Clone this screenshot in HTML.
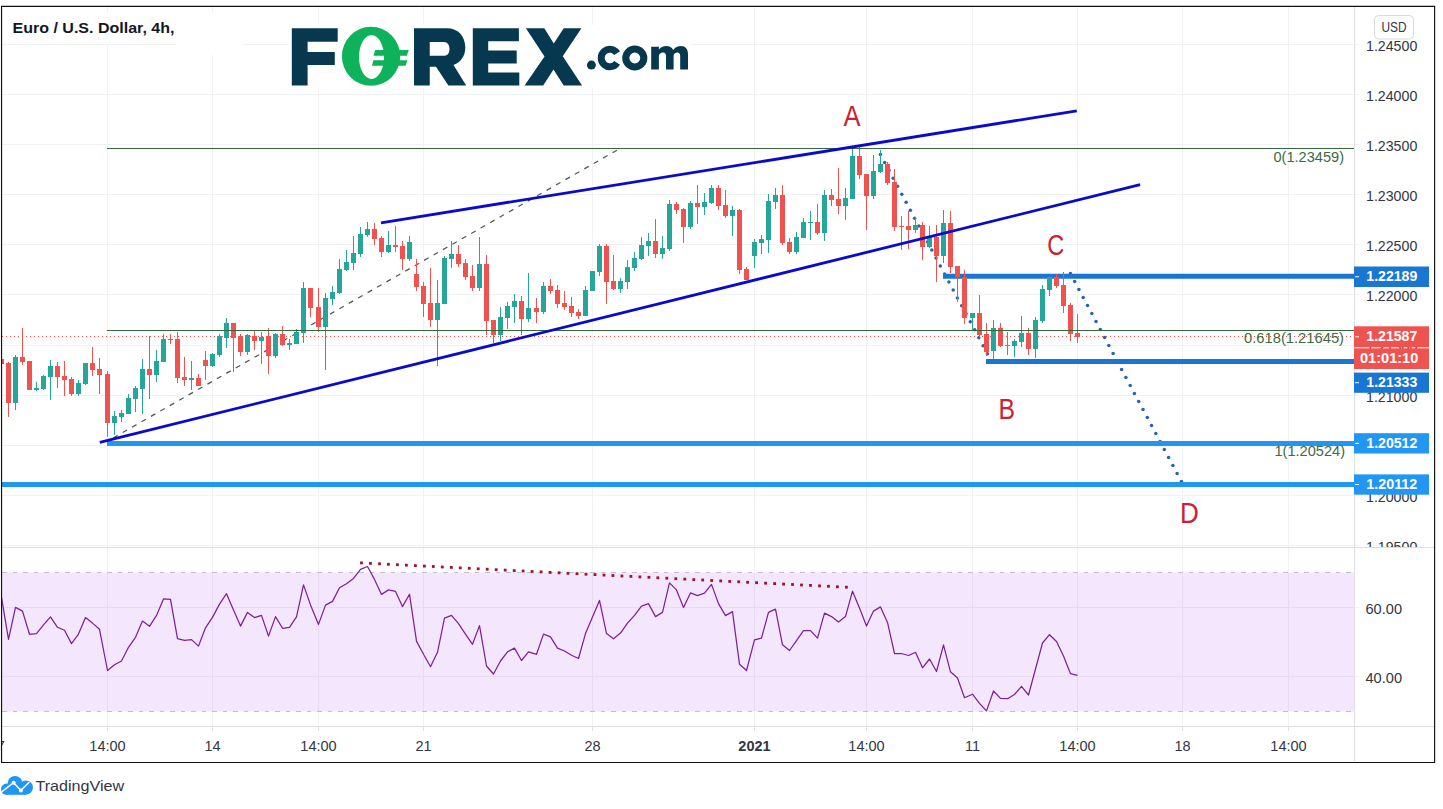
<!DOCTYPE html>
<html><head><meta charset="utf-8"><title>EUR/USD 4h</title>
<style>
html,body{margin:0;padding:0;background:#fff;}
body{width:1443px;height:809px;overflow:hidden;font-family:"Liberation Sans",sans-serif;}
svg{display:block;}
svg text{font-family:"Liberation Sans",sans-serif;}
</style></head><body>
<svg width="1443" height="809" viewBox="0 0 1443 809">
<rect x="0" y="0" width="1443" height="809" fill="#ffffff"/>
<defs><clipPath id="plot"><rect x="2" y="7" width="1352.5" height="540"/></clipPath><clipPath id="rsi"><rect x="2" y="548" width="1352.5" height="178"/></clipPath></defs>
<rect x="2" y="572.5" width="1352.5" height="139" fill="#f4e6fc"/>
<g stroke="#f1f2f3" stroke-width="1" shape-rendering="crispEdges">
<line x1="2" y1="44.5" x2="1359" y2="44.5"/>
<line x1="2" y1="94.5" x2="1359" y2="94.5"/>
<line x1="2" y1="144.5" x2="1359" y2="144.5"/>
<line x1="2" y1="194.5" x2="1359" y2="194.5"/>
<line x1="2" y1="244.5" x2="1359" y2="244.5"/>
<line x1="2" y1="294.5" x2="1359" y2="294.5"/>
<line x1="2" y1="345.5" x2="1359" y2="345.5"/>
<line x1="2" y1="395.5" x2="1359" y2="395.5"/>
<line x1="2" y1="445.5" x2="1359" y2="445.5"/>
<line x1="2" y1="495.5" x2="1359" y2="495.5"/>
<line x1="2" y1="545.5" x2="1359" y2="545.5"/>
<line x1="107.5" y1="7" x2="107.5" y2="547"/>
<line x1="212.5" y1="7" x2="212.5" y2="547"/>
<line x1="318.5" y1="7" x2="318.5" y2="547"/>
<line x1="423.5" y1="7" x2="423.5" y2="547"/>
<line x1="592.5" y1="7" x2="592.5" y2="547"/>
<line x1="754.5" y1="7" x2="754.5" y2="547"/>
<line x1="866.5" y1="7" x2="866.5" y2="547"/>
<line x1="972.5" y1="7" x2="972.5" y2="547"/>
<line x1="1077.5" y1="7" x2="1077.5" y2="547"/>
<line x1="1182.5" y1="7" x2="1182.5" y2="547"/>
<line x1="1288.5" y1="7" x2="1288.5" y2="547"/>
</g>
<g stroke="#e8dbf1" stroke-width="1" shape-rendering="crispEdges">
<line x1="107.5" y1="573" x2="107.5" y2="711"/>
<line x1="212.5" y1="573" x2="212.5" y2="711"/>
<line x1="318.5" y1="573" x2="318.5" y2="711"/>
<line x1="423.5" y1="573" x2="423.5" y2="711"/>
<line x1="592.5" y1="573" x2="592.5" y2="711"/>
<line x1="754.5" y1="573" x2="754.5" y2="711"/>
<line x1="866.5" y1="573" x2="866.5" y2="711"/>
<line x1="972.5" y1="573" x2="972.5" y2="711"/>
<line x1="1077.5" y1="573" x2="1077.5" y2="711"/>
<line x1="1182.5" y1="573" x2="1182.5" y2="711"/>
<line x1="1288.5" y1="573" x2="1288.5" y2="711"/>
<line x1="2" y1="607.5" x2="1354" y2="607.5"/>
<line x1="2" y1="676.5" x2="1354" y2="676.5"/>
</g>
<g stroke="#f1f2f3" stroke-width="1" shape-rendering="crispEdges">
<line x1="107.5" y1="548" x2="107.5" y2="572"/>
<line x1="107.5" y1="712" x2="107.5" y2="726"/>
<line x1="212.5" y1="548" x2="212.5" y2="572"/>
<line x1="212.5" y1="712" x2="212.5" y2="726"/>
<line x1="318.5" y1="548" x2="318.5" y2="572"/>
<line x1="318.5" y1="712" x2="318.5" y2="726"/>
<line x1="423.5" y1="548" x2="423.5" y2="572"/>
<line x1="423.5" y1="712" x2="423.5" y2="726"/>
<line x1="592.5" y1="548" x2="592.5" y2="572"/>
<line x1="592.5" y1="712" x2="592.5" y2="726"/>
<line x1="754.5" y1="548" x2="754.5" y2="572"/>
<line x1="754.5" y1="712" x2="754.5" y2="726"/>
<line x1="866.5" y1="548" x2="866.5" y2="572"/>
<line x1="866.5" y1="712" x2="866.5" y2="726"/>
<line x1="972.5" y1="548" x2="972.5" y2="572"/>
<line x1="972.5" y1="712" x2="972.5" y2="726"/>
<line x1="1077.5" y1="548" x2="1077.5" y2="572"/>
<line x1="1077.5" y1="712" x2="1077.5" y2="726"/>
<line x1="1182.5" y1="548" x2="1182.5" y2="572"/>
<line x1="1182.5" y1="712" x2="1182.5" y2="726"/>
<line x1="1288.5" y1="548" x2="1288.5" y2="572"/>
<line x1="1288.5" y1="712" x2="1288.5" y2="726"/>
<line x1="1354" y1="607.5" x2="1359" y2="607.5"/>
<line x1="1354" y1="676.5" x2="1359" y2="676.5"/>
</g>
<g stroke="#c0c0c5" stroke-width="1" stroke-dasharray="4.5,6" shape-rendering="crispEdges"><line x1="2" y1="572.5" x2="1354" y2="572.5"/><line x1="2" y1="711.5" x2="1354" y2="711.5"/></g>
<g stroke="#dedfe2" stroke-width="1" shape-rendering="crispEdges">
<line x1="2" y1="547.5" x2="1435" y2="547.5"/>
<line x1="2" y1="726.5" x2="1435" y2="726.5"/>
<line x1="1354.5" y1="7" x2="1354.5" y2="761"/>
<line x1="107.5" y1="727" x2="107.5" y2="731"/>
<line x1="212.5" y1="727" x2="212.5" y2="731"/>
<line x1="318.5" y1="727" x2="318.5" y2="731"/>
<line x1="423.5" y1="727" x2="423.5" y2="731"/>
<line x1="592.5" y1="727" x2="592.5" y2="731"/>
<line x1="754.5" y1="727" x2="754.5" y2="731"/>
<line x1="866.5" y1="727" x2="866.5" y2="731"/>
<line x1="972.5" y1="727" x2="972.5" y2="731"/>
<line x1="1077.5" y1="727" x2="1077.5" y2="731"/>
<line x1="1182.5" y1="727" x2="1182.5" y2="731"/>
<line x1="1288.5" y1="727" x2="1288.5" y2="731"/>
</g>
<g clip-path="url(#plot)">
<line x1="2" y1="336.5" x2="1354" y2="336.5" stroke="#ef5350" stroke-width="1" stroke-dasharray="1,3" shape-rendering="crispEdges"/>
<line x1="617" y1="150.2" x2="107" y2="441.5" stroke="#4d5b4d" stroke-width="1.25" stroke-dasharray="5.1,5.75"/>
<g fill="#2763ab"><circle cx="880.4" cy="154.4" r="1.75"/><circle cx="884.7" cy="162.4" r="1.75"/><circle cx="889.0" cy="170.3" r="1.75"/><circle cx="893.2" cy="178.3" r="1.75"/><circle cx="897.5" cy="186.3" r="1.75"/><circle cx="901.8" cy="194.2" r="1.75"/><circle cx="906.1" cy="202.2" r="1.75"/><circle cx="910.4" cy="210.2" r="1.75"/><circle cx="914.6" cy="218.2" r="1.75"/><circle cx="918.9" cy="226.1" r="1.75"/><circle cx="923.2" cy="234.1" r="1.75"/><circle cx="927.5" cy="242.1" r="1.75"/><circle cx="931.8" cy="250.0" r="1.75"/><circle cx="936.0" cy="258.0" r="1.75"/><circle cx="940.3" cy="266.0" r="1.75"/><circle cx="944.6" cy="274.0" r="1.75"/><circle cx="948.9" cy="281.9" r="1.75"/><circle cx="953.2" cy="289.9" r="1.75"/><circle cx="957.4" cy="297.9" r="1.75"/><circle cx="961.7" cy="305.8" r="1.75"/><circle cx="966.0" cy="313.8" r="1.75"/><circle cx="970.3" cy="321.8" r="1.75"/><circle cx="974.6" cy="329.7" r="1.75"/><circle cx="978.8" cy="337.7" r="1.75"/><circle cx="983.1" cy="345.7" r="1.75"/><circle cx="987.4" cy="353.7" r="1.75"/></g>
<g fill="#2763ab"><circle cx="1070.4" cy="273.6" r="1.75"/><circle cx="1074.7" cy="281.6" r="1.75"/><circle cx="1078.9" cy="289.6" r="1.75"/><circle cx="1083.2" cy="297.6" r="1.75"/><circle cx="1087.5" cy="305.6" r="1.75"/><circle cx="1091.8" cy="313.6" r="1.75"/><circle cx="1096.0" cy="321.6" r="1.75"/><circle cx="1100.3" cy="329.6" r="1.75"/><circle cx="1104.6" cy="337.6" r="1.75"/><circle cx="1108.8" cy="345.6" r="1.75"/><circle cx="1113.1" cy="353.6" r="1.75"/><circle cx="1117.4" cy="361.6" r="1.75"/><circle cx="1121.6" cy="369.6" r="1.75"/><circle cx="1125.9" cy="377.6" r="1.75"/><circle cx="1130.2" cy="385.6" r="1.75"/><circle cx="1134.4" cy="393.6" r="1.75"/><circle cx="1138.7" cy="401.6" r="1.75"/><circle cx="1143.0" cy="409.6" r="1.75"/><circle cx="1147.3" cy="417.6" r="1.75"/><circle cx="1151.5" cy="425.6" r="1.75"/><circle cx="1155.8" cy="433.6" r="1.75"/><circle cx="1160.1" cy="441.6" r="1.75"/><circle cx="1164.3" cy="449.6" r="1.75"/><circle cx="1168.6" cy="457.6" r="1.75"/><circle cx="1172.9" cy="465.6" r="1.75"/><circle cx="1177.1" cy="473.6" r="1.75"/><circle cx="1181.4" cy="481.6" r="1.75"/></g>
<line x1="107" y1="443.5" x2="1354" y2="443.5" stroke="#2196f3" stroke-width="5"/>
<line x1="2" y1="484.5" x2="1354" y2="484.5" stroke="#2196f3" stroke-width="5"/>
<line x1="943" y1="276.3" x2="1354" y2="276.3" stroke="#1976d2" stroke-width="5"/>
<line x1="986" y1="361.5" x2="1354" y2="361.5" stroke="#1976d2" stroke-width="5"/>
<rect x="1" y="359" width="1" height="5" fill="#ef5350"/><rect x="-1" y="359" width="5" height="5" fill="#ef5350"/>
<rect x="8" y="362" width="1" height="55" fill="#ef5350"/><rect x="6" y="363" width="5" height="40" fill="#ef5350"/>
<rect x="15" y="355" width="1" height="55" fill="#26a69a"/><rect x="13" y="357" width="5" height="46" fill="#26a69a"/>
<rect x="22" y="328" width="1" height="37" fill="#ef5350"/><rect x="20" y="357" width="5" height="5" fill="#ef5350"/>
<rect x="29" y="361" width="1" height="29" fill="#ef5350"/><rect x="27" y="361" width="5" height="29" fill="#ef5350"/>
<rect x="36" y="382" width="1" height="9" fill="#26a69a"/><rect x="34" y="388" width="5" height="2" fill="#26a69a"/>
<rect x="43" y="375" width="1" height="15" fill="#26a69a"/><rect x="41" y="376" width="5" height="13" fill="#26a69a"/>
<rect x="50" y="360" width="1" height="40" fill="#26a69a"/><rect x="48" y="366" width="5" height="11" fill="#26a69a"/>
<rect x="57" y="362" width="1" height="26" fill="#ef5350"/><rect x="55" y="366" width="5" height="11" fill="#ef5350"/>
<rect x="64" y="361" width="1" height="35" fill="#ef5350"/><rect x="62" y="376" width="5" height="4" fill="#ef5350"/>
<rect x="71" y="377" width="1" height="19" fill="#ef5350"/><rect x="69" y="379" width="5" height="15" fill="#ef5350"/>
<rect x="78" y="380" width="1" height="16" fill="#26a69a"/><rect x="76" y="383" width="5" height="11" fill="#26a69a"/>
<rect x="85" y="363" width="1" height="22" fill="#26a69a"/><rect x="83" y="363" width="5" height="21" fill="#26a69a"/>
<rect x="92" y="347" width="1" height="29" fill="#ef5350"/><rect x="90" y="363" width="5" height="7" fill="#ef5350"/>
<rect x="99" y="358" width="1" height="36" fill="#ef5350"/><rect x="97" y="369" width="5" height="6" fill="#ef5350"/>
<rect x="107" y="371" width="1" height="66" fill="#ef5350"/><rect x="105" y="374" width="5" height="49" fill="#ef5350"/>
<rect x="114" y="411" width="1" height="24" fill="#26a69a"/><rect x="112" y="416" width="5" height="7" fill="#26a69a"/>
<rect x="121" y="410" width="1" height="12" fill="#26a69a"/><rect x="119" y="413" width="5" height="4" fill="#26a69a"/>
<rect x="128" y="394" width="1" height="20" fill="#26a69a"/><rect x="126" y="398" width="5" height="16" fill="#26a69a"/>
<rect x="135" y="386" width="1" height="26" fill="#26a69a"/><rect x="133" y="388" width="5" height="11" fill="#26a69a"/>
<rect x="142" y="359" width="1" height="55" fill="#26a69a"/><rect x="140" y="369" width="5" height="20" fill="#26a69a"/>
<rect x="149" y="336" width="1" height="63" fill="#ef5350"/><rect x="147" y="369" width="5" height="6" fill="#ef5350"/>
<rect x="156" y="350" width="1" height="32" fill="#26a69a"/><rect x="154" y="361" width="5" height="14" fill="#26a69a"/>
<rect x="163" y="334" width="1" height="28" fill="#26a69a"/><rect x="161" y="339" width="5" height="23" fill="#26a69a"/>
<rect x="170" y="334" width="1" height="10" fill="#ef5350"/><rect x="168" y="339" width="5" height="1" fill="#ef5350"/>
<rect x="177" y="332" width="1" height="51" fill="#ef5350"/><rect x="175" y="339" width="5" height="39" fill="#ef5350"/>
<rect x="184" y="357" width="1" height="29" fill="#ef5350"/><rect x="182" y="377" width="5" height="3" fill="#ef5350"/>
<rect x="191" y="361" width="1" height="29" fill="#26a69a"/><rect x="189" y="378" width="5" height="2" fill="#26a69a"/>
<rect x="198" y="374" width="1" height="12" fill="#ef5350"/><rect x="196" y="378" width="5" height="8" fill="#ef5350"/>
<rect x="205" y="351" width="1" height="29" fill="#ef5350"/><rect x="203" y="360" width="5" height="6" fill="#ef5350"/>
<rect x="212" y="353" width="1" height="14" fill="#26a69a"/><rect x="210" y="354" width="5" height="12" fill="#26a69a"/>
<rect x="219" y="334" width="1" height="23" fill="#26a69a"/><rect x="217" y="336" width="5" height="19" fill="#26a69a"/>
<rect x="226" y="318" width="1" height="30" fill="#26a69a"/><rect x="224" y="323" width="5" height="15" fill="#26a69a"/>
<rect x="233" y="323" width="1" height="49" fill="#ef5350"/><rect x="231" y="323" width="5" height="15" fill="#ef5350"/>
<rect x="240" y="334" width="1" height="22" fill="#ef5350"/><rect x="238" y="336" width="5" height="16" fill="#ef5350"/>
<rect x="247" y="334" width="1" height="21" fill="#26a69a"/><rect x="245" y="335" width="5" height="17" fill="#26a69a"/>
<rect x="254" y="331" width="1" height="19" fill="#ef5350"/><rect x="252" y="336" width="5" height="5" fill="#ef5350"/>
<rect x="261" y="332" width="1" height="32" fill="#26a69a"/><rect x="259" y="337" width="5" height="4" fill="#26a69a"/>
<rect x="268" y="328" width="1" height="46" fill="#ef5350"/><rect x="266" y="336" width="5" height="20" fill="#ef5350"/>
<rect x="275" y="333" width="1" height="25" fill="#26a69a"/><rect x="273" y="334" width="5" height="22" fill="#26a69a"/>
<rect x="282" y="326" width="1" height="20" fill="#ef5350"/><rect x="280" y="334" width="5" height="11" fill="#ef5350"/>
<rect x="289" y="339" width="1" height="11" fill="#26a69a"/><rect x="287" y="343" width="5" height="2" fill="#26a69a"/>
<rect x="296" y="329" width="1" height="15" fill="#26a69a"/><rect x="294" y="332" width="5" height="12" fill="#26a69a"/>
<rect x="303" y="282" width="1" height="61" fill="#26a69a"/><rect x="301" y="288" width="5" height="45" fill="#26a69a"/>
<rect x="310" y="288" width="1" height="29" fill="#ef5350"/><rect x="308" y="288" width="5" height="20" fill="#ef5350"/>
<rect x="318" y="288" width="1" height="44" fill="#ef5350"/><rect x="316" y="307" width="5" height="20" fill="#ef5350"/>
<rect x="325" y="293" width="1" height="77" fill="#26a69a"/><rect x="323" y="298" width="5" height="29" fill="#26a69a"/>
<rect x="332" y="286" width="1" height="19" fill="#26a69a"/><rect x="330" y="292" width="5" height="7" fill="#26a69a"/>
<rect x="339" y="259" width="1" height="35" fill="#26a69a"/><rect x="337" y="269" width="5" height="24" fill="#26a69a"/>
<rect x="346" y="250" width="1" height="21" fill="#26a69a"/><rect x="344" y="262" width="5" height="8" fill="#26a69a"/>
<rect x="353" y="236" width="1" height="34" fill="#26a69a"/><rect x="351" y="253" width="5" height="10" fill="#26a69a"/>
<rect x="360" y="227" width="1" height="30" fill="#26a69a"/><rect x="358" y="234" width="5" height="20" fill="#26a69a"/>
<rect x="367" y="222" width="1" height="15" fill="#26a69a"/><rect x="365" y="229" width="5" height="6" fill="#26a69a"/>
<rect x="374" y="223" width="1" height="22" fill="#ef5350"/><rect x="372" y="229" width="5" height="10" fill="#ef5350"/>
<rect x="381" y="236" width="1" height="21" fill="#ef5350"/><rect x="379" y="238" width="5" height="14" fill="#ef5350"/>
<rect x="388" y="231" width="1" height="22" fill="#26a69a"/><rect x="386" y="245" width="5" height="7" fill="#26a69a"/>
<rect x="395" y="226" width="1" height="26" fill="#ef5350"/><rect x="393" y="245" width="5" height="2" fill="#ef5350"/>
<rect x="402" y="241" width="1" height="29" fill="#ef5350"/><rect x="400" y="246" width="5" height="13" fill="#ef5350"/>
<rect x="409" y="236" width="1" height="25" fill="#26a69a"/><rect x="407" y="242" width="5" height="17" fill="#26a69a"/>
<rect x="416" y="259" width="1" height="32" fill="#ef5350"/><rect x="414" y="274" width="5" height="13" fill="#ef5350"/>
<rect x="423" y="282" width="1" height="35" fill="#ef5350"/><rect x="421" y="286" width="5" height="18" fill="#ef5350"/>
<rect x="430" y="268" width="1" height="59" fill="#ef5350"/><rect x="428" y="303" width="5" height="17" fill="#ef5350"/>
<rect x="437" y="280" width="1" height="86" fill="#26a69a"/><rect x="435" y="303" width="5" height="17" fill="#26a69a"/>
<rect x="444" y="256" width="1" height="48" fill="#26a69a"/><rect x="442" y="258" width="5" height="46" fill="#26a69a"/>
<rect x="451" y="241" width="1" height="27" fill="#26a69a"/><rect x="449" y="254" width="5" height="5" fill="#26a69a"/>
<rect x="458" y="245" width="1" height="22" fill="#ef5350"/><rect x="456" y="254" width="5" height="10" fill="#ef5350"/>
<rect x="465" y="259" width="1" height="21" fill="#ef5350"/><rect x="463" y="263" width="5" height="14" fill="#ef5350"/>
<rect x="472" y="265" width="1" height="26" fill="#ef5350"/><rect x="470" y="276" width="5" height="12" fill="#ef5350"/>
<rect x="479" y="237" width="1" height="54" fill="#26a69a"/><rect x="477" y="264" width="5" height="24" fill="#26a69a"/>
<rect x="486" y="255" width="1" height="80" fill="#ef5350"/><rect x="484" y="264" width="5" height="57" fill="#ef5350"/>
<rect x="493" y="320" width="1" height="23" fill="#ef5350"/><rect x="491" y="320" width="5" height="15" fill="#ef5350"/>
<rect x="500" y="307" width="1" height="34" fill="#26a69a"/><rect x="498" y="317" width="5" height="18" fill="#26a69a"/>
<rect x="507" y="302" width="1" height="27" fill="#26a69a"/><rect x="505" y="306" width="5" height="12" fill="#26a69a"/>
<rect x="514" y="294" width="1" height="29" fill="#26a69a"/><rect x="512" y="301" width="5" height="6" fill="#26a69a"/>
<rect x="521" y="296" width="1" height="39" fill="#ef5350"/><rect x="519" y="301" width="5" height="18" fill="#ef5350"/>
<rect x="528" y="273" width="1" height="49" fill="#26a69a"/><rect x="526" y="308" width="5" height="11" fill="#26a69a"/>
<rect x="536" y="298" width="1" height="25" fill="#ef5350"/><rect x="534" y="308" width="5" height="4" fill="#ef5350"/>
<rect x="543" y="282" width="1" height="32" fill="#26a69a"/><rect x="541" y="286" width="5" height="26" fill="#26a69a"/>
<rect x="550" y="279" width="1" height="15" fill="#ef5350"/><rect x="548" y="286" width="5" height="5" fill="#ef5350"/>
<rect x="557" y="285" width="1" height="23" fill="#ef5350"/><rect x="555" y="290" width="5" height="14" fill="#ef5350"/>
<rect x="564" y="291" width="1" height="19" fill="#ef5350"/><rect x="562" y="303" width="5" height="4" fill="#ef5350"/>
<rect x="571" y="297" width="1" height="20" fill="#ef5350"/><rect x="569" y="306" width="5" height="7" fill="#ef5350"/>
<rect x="578" y="309" width="1" height="10" fill="#ef5350"/><rect x="576" y="312" width="5" height="4" fill="#ef5350"/>
<rect x="585" y="286" width="1" height="30" fill="#26a69a"/><rect x="583" y="290" width="5" height="26" fill="#26a69a"/>
<rect x="592" y="271" width="1" height="20" fill="#26a69a"/><rect x="590" y="271" width="5" height="20" fill="#26a69a"/>
<rect x="599" y="244" width="1" height="32" fill="#26a69a"/><rect x="597" y="246" width="5" height="26" fill="#26a69a"/>
<rect x="606" y="244" width="1" height="60" fill="#ef5350"/><rect x="604" y="246" width="5" height="36" fill="#ef5350"/>
<rect x="613" y="255" width="1" height="35" fill="#ef5350"/><rect x="611" y="281" width="5" height="8" fill="#ef5350"/>
<rect x="620" y="278" width="1" height="15" fill="#26a69a"/><rect x="618" y="281" width="5" height="8" fill="#26a69a"/>
<rect x="627" y="260" width="1" height="29" fill="#26a69a"/><rect x="625" y="267" width="5" height="15" fill="#26a69a"/>
<rect x="634" y="252" width="1" height="19" fill="#26a69a"/><rect x="632" y="258" width="5" height="10" fill="#26a69a"/>
<rect x="641" y="237" width="1" height="23" fill="#26a69a"/><rect x="639" y="245" width="5" height="14" fill="#26a69a"/>
<rect x="648" y="233" width="1" height="23" fill="#26a69a"/><rect x="646" y="241" width="5" height="5" fill="#26a69a"/>
<rect x="655" y="219" width="1" height="39" fill="#ef5350"/><rect x="653" y="241" width="5" height="13" fill="#ef5350"/>
<rect x="662" y="236" width="1" height="23" fill="#26a69a"/><rect x="660" y="248" width="5" height="6" fill="#26a69a"/>
<rect x="669" y="200" width="1" height="51" fill="#26a69a"/><rect x="667" y="204" width="5" height="45" fill="#26a69a"/>
<rect x="676" y="202" width="1" height="12" fill="#ef5350"/><rect x="674" y="204" width="5" height="6" fill="#ef5350"/>
<rect x="683" y="208" width="1" height="35" fill="#ef5350"/><rect x="681" y="209" width="5" height="18" fill="#ef5350"/>
<rect x="690" y="201" width="1" height="28" fill="#26a69a"/><rect x="688" y="203" width="5" height="24" fill="#26a69a"/>
<rect x="697" y="185" width="1" height="39" fill="#ef5350"/><rect x="695" y="203" width="5" height="4" fill="#ef5350"/>
<rect x="704" y="193" width="1" height="22" fill="#26a69a"/><rect x="702" y="202" width="5" height="5" fill="#26a69a"/>
<rect x="711" y="185" width="1" height="19" fill="#26a69a"/><rect x="709" y="188" width="5" height="15" fill="#26a69a"/>
<rect x="718" y="185" width="1" height="25" fill="#ef5350"/><rect x="716" y="188" width="5" height="18" fill="#ef5350"/>
<rect x="725" y="190" width="1" height="28" fill="#ef5350"/><rect x="723" y="205" width="5" height="11" fill="#ef5350"/>
<rect x="732" y="206" width="1" height="30" fill="#26a69a"/><rect x="730" y="210" width="5" height="6" fill="#26a69a"/>
<rect x="739" y="209" width="1" height="65" fill="#ef5350"/><rect x="737" y="210" width="5" height="60" fill="#ef5350"/>
<rect x="746" y="267" width="1" height="13" fill="#ef5350"/><rect x="744" y="269" width="5" height="11" fill="#ef5350"/>
<rect x="754" y="239" width="1" height="29" fill="#26a69a"/><rect x="752" y="242" width="5" height="14" fill="#26a69a"/>
<rect x="761" y="235" width="1" height="19" fill="#26a69a"/><rect x="759" y="239" width="5" height="4" fill="#26a69a"/>
<rect x="768" y="194" width="1" height="59" fill="#26a69a"/><rect x="766" y="201" width="5" height="39" fill="#26a69a"/>
<rect x="775" y="188" width="1" height="21" fill="#26a69a"/><rect x="773" y="195" width="5" height="7" fill="#26a69a"/>
<rect x="782" y="185" width="1" height="60" fill="#ef5350"/><rect x="780" y="195" width="5" height="48" fill="#ef5350"/>
<rect x="789" y="238" width="1" height="16" fill="#ef5350"/><rect x="787" y="242" width="5" height="10" fill="#ef5350"/>
<rect x="796" y="232" width="1" height="22" fill="#26a69a"/><rect x="794" y="237" width="5" height="15" fill="#26a69a"/>
<rect x="803" y="218" width="1" height="20" fill="#26a69a"/><rect x="801" y="222" width="5" height="16" fill="#26a69a"/>
<rect x="810" y="211" width="1" height="29" fill="#26a69a"/><rect x="808" y="222" width="5" height="1" fill="#26a69a"/>
<rect x="817" y="204" width="1" height="31" fill="#ef5350"/><rect x="815" y="222" width="5" height="11" fill="#ef5350"/>
<rect x="824" y="190" width="1" height="51" fill="#26a69a"/><rect x="822" y="195" width="5" height="38" fill="#26a69a"/>
<rect x="831" y="189" width="1" height="17" fill="#ef5350"/><rect x="829" y="195" width="5" height="5" fill="#ef5350"/>
<rect x="838" y="168" width="1" height="46" fill="#ef5350"/><rect x="836" y="199" width="5" height="7" fill="#ef5350"/>
<rect x="845" y="188" width="1" height="32" fill="#26a69a"/><rect x="843" y="198" width="5" height="8" fill="#26a69a"/>
<rect x="852" y="147" width="1" height="52" fill="#26a69a"/><rect x="850" y="156" width="5" height="43" fill="#26a69a"/>
<rect x="859" y="145" width="1" height="34" fill="#ef5350"/><rect x="857" y="156" width="5" height="19" fill="#ef5350"/>
<rect x="866" y="174" width="1" height="56" fill="#ef5350"/><rect x="864" y="174" width="5" height="22" fill="#ef5350"/>
<rect x="873" y="155" width="1" height="44" fill="#26a69a"/><rect x="871" y="171" width="5" height="25" fill="#26a69a"/>
<rect x="880" y="150" width="1" height="23" fill="#26a69a"/><rect x="878" y="164" width="5" height="8" fill="#26a69a"/>
<rect x="887" y="162" width="1" height="23" fill="#ef5350"/><rect x="885" y="164" width="5" height="19" fill="#ef5350"/>
<rect x="894" y="169" width="1" height="62" fill="#ef5350"/><rect x="892" y="182" width="5" height="45" fill="#ef5350"/>
<rect x="901" y="216" width="1" height="34" fill="#ef5350"/><rect x="899" y="226" width="5" height="1" fill="#ef5350"/>
<rect x="908" y="211" width="1" height="38" fill="#ef5350"/><rect x="906" y="226" width="5" height="4" fill="#ef5350"/>
<rect x="915" y="217" width="1" height="16" fill="#26a69a"/><rect x="913" y="225" width="5" height="5" fill="#26a69a"/>
<rect x="922" y="222" width="1" height="38" fill="#ef5350"/><rect x="920" y="225" width="5" height="22" fill="#ef5350"/>
<rect x="929" y="226" width="1" height="22" fill="#26a69a"/><rect x="927" y="237" width="5" height="10" fill="#26a69a"/>
<rect x="936" y="225" width="1" height="57" fill="#ef5350"/><rect x="934" y="237" width="5" height="19" fill="#ef5350"/>
<rect x="943" y="210" width="1" height="53" fill="#26a69a"/><rect x="941" y="223" width="5" height="33" fill="#26a69a"/>
<rect x="950" y="211" width="1" height="62" fill="#ef5350"/><rect x="948" y="223" width="5" height="44" fill="#ef5350"/>
<rect x="957" y="266" width="1" height="36" fill="#ef5350"/><rect x="955" y="266" width="5" height="11" fill="#ef5350"/>
<rect x="964" y="270" width="1" height="54" fill="#ef5350"/><rect x="962" y="277" width="5" height="41" fill="#ef5350"/>
<rect x="972" y="313" width="1" height="17" fill="#26a69a"/><rect x="970" y="313" width="5" height="5" fill="#26a69a"/>
<rect x="979" y="295" width="1" height="42" fill="#ef5350"/><rect x="977" y="313" width="5" height="22" fill="#ef5350"/>
<rect x="986" y="323" width="1" height="33" fill="#ef5350"/><rect x="984" y="334" width="5" height="18" fill="#ef5350"/>
<rect x="993" y="320" width="1" height="39" fill="#26a69a"/><rect x="991" y="328" width="5" height="23" fill="#26a69a"/>
<rect x="1000" y="323" width="1" height="24" fill="#ef5350"/><rect x="998" y="328" width="5" height="18" fill="#ef5350"/>
<rect x="1007" y="332" width="1" height="23" fill="#ef5350"/><rect x="1005" y="345" width="5" height="1" fill="#ef5350"/>
<rect x="1014" y="339" width="1" height="18" fill="#26a69a"/><rect x="1012" y="341" width="5" height="5" fill="#26a69a"/>
<rect x="1021" y="316" width="1" height="31" fill="#26a69a"/><rect x="1019" y="333" width="5" height="9" fill="#26a69a"/>
<rect x="1028" y="328" width="1" height="27" fill="#ef5350"/><rect x="1026" y="333" width="5" height="16" fill="#ef5350"/>
<rect x="1035" y="317" width="1" height="41" fill="#26a69a"/><rect x="1033" y="320" width="5" height="29" fill="#26a69a"/>
<rect x="1042" y="285" width="1" height="38" fill="#26a69a"/><rect x="1040" y="289" width="5" height="32" fill="#26a69a"/>
<rect x="1049" y="276" width="1" height="20" fill="#26a69a"/><rect x="1047" y="277" width="5" height="13" fill="#26a69a"/>
<rect x="1056" y="274" width="1" height="14" fill="#ef5350"/><rect x="1054" y="277" width="5" height="9" fill="#ef5350"/>
<rect x="1063" y="272" width="1" height="41" fill="#ef5350"/><rect x="1061" y="285" width="5" height="21" fill="#ef5350"/>
<rect x="1070" y="303" width="1" height="38" fill="#ef5350"/><rect x="1068" y="305" width="5" height="29" fill="#ef5350"/>
<rect x="1077" y="314" width="1" height="29" fill="#ef5350"/><rect x="1075" y="333" width="5" height="4" fill="#ef5350"/>
<g stroke="#35683a" stroke-width="1" shape-rendering="crispEdges"><line x1="107" y1="148.5" x2="1354" y2="148.5"/><line x1="107" y1="330.5" x2="1354" y2="330.5"/></g>
<g stroke="#0a0acc" stroke-width="2.8" stroke-linecap="butt">
<line x1="99.8" y1="442.3" x2="1140.1" y2="184.6"/>
<line x1="381" y1="222.8" x2="1076.8" y2="110.8"/>
</g>
</g>
<g fill="#cc2230" font-size="29px">
<text x="843.4" y="125.8" textLength="17" lengthAdjust="spacingAndGlyphs">A</text>
<text x="998.6" y="418.8" textLength="16.5" lengthAdjust="spacingAndGlyphs">B</text>
<text x="1047.3" y="255" textLength="17" lengthAdjust="spacingAndGlyphs">C</text>
<text x="1180" y="523" textLength="18.8" lengthAdjust="spacingAndGlyphs">D</text>
</g>
<g fill="#3d6b3f" font-size="14px" text-anchor="end">
<text x="1344" y="162.3" textLength="70.5" lengthAdjust="spacingAndGlyphs">0(1.23459)</text>
<text x="1344" y="343.3" textLength="100" lengthAdjust="spacingAndGlyphs">0.618(1.21645)</text>
<text x="1345" y="456" textLength="70.5" lengthAdjust="spacingAndGlyphs">1(1.20524)</text>
</g>
<g clip-path="url(#rsi)">
<polyline points="1.5,597.4 8.5,639.3 15.5,607.4 22.5,611.1 29.5,634.3 36.5,633.6 43.5,624.9 50.5,616.9 57.5,627.3 64.5,630.3 71.5,643.6 78.5,634.1 85.5,617.6 92.5,623.1 99.5,629.3 107.5,670.5 114.5,664.8 121.5,661.0 128.5,647.3 135.5,637.3 142.5,621.1 149.5,626.3 156.5,615.4 163.5,598.9 170.5,599.4 177.5,638.6 184.5,640.3 191.5,639.6 198.5,646.1 205.5,627.8 212.5,617.4 219.5,604.1 226.5,593.7 233.5,609.9 240.5,626.1 247.5,612.4 254.5,617.6 261.5,615.4 268.5,636.1 275.5,616.6 282.5,628.3 289.5,627.3 296.5,616.9 303.5,584.9 310.5,604.9 318.5,624.4 325.5,605.1 332.5,601.4 339.5,587.7 346.5,583.7 353.5,578.4 360.5,569.3 367.5,566.5 374.5,579.4 381.5,594.4 388.5,589.9 395.5,591.4 402.5,606.6 409.5,594.2 416.5,641.1 423.5,654.3 430.5,666.8 437.5,652.3 444.5,618.1 451.5,615.4 458.5,623.6 465.5,634.1 472.5,644.3 479.5,625.6 486.5,666.0 493.5,674.0 500.5,661.0 507.5,651.8 514.5,648.1 521.5,660.5 528.5,651.8 536.5,654.3 543.5,634.1 550.5,636.8 557.5,648.1 564.5,651.0 571.5,655.3 578.5,658.5 585.5,633.6 592.5,616.9 599.5,600.4 606.5,633.6 613.5,638.8 620.5,633.1 627.5,623.1 634.5,615.4 641.5,606.1 648.5,603.6 655.5,616.6 662.5,612.4 669.5,582.9 676.5,589.9 683.5,607.6 690.5,592.9 697.5,595.6 704.5,593.2 711.5,584.4 718.5,603.6 725.5,615.6 732.5,611.6 739.5,664.3 746.5,670.5 754.5,639.8 761.5,638.1 768.5,612.4 775.5,609.1 782.5,644.8 789.5,650.5 796.5,640.6 803.5,630.6 810.5,630.6 817.5,638.1 824.5,613.1 831.5,616.6 838.5,622.1 845.5,616.6 852.5,591.2 859.5,608.1 866.5,626.1 873.5,611.1 880.5,606.9 887.5,622.4 894.5,653.5 901.5,653.5 908.5,655.5 915.5,652.3 922.5,667.8 929.5,659.0 936.5,671.5 943.5,644.8 950.5,671.8 957.5,678.0 964.5,697.7 972.5,694.2 979.5,703.4 986.5,710.9 993.5,691.0 1000.5,698.4 1007.5,698.7 1014.5,694.5 1021.5,686.3 1028.5,695.0 1035.5,669.0 1042.5,643.0 1049.5,634.7 1056.5,641.5 1063.5,655.9 1070.5,673.7 1077.5,675.3" fill="none" stroke="#7d2296" stroke-width="1.25" stroke-linejoin="round"/>
<g fill="#9c1529"><rect x="360.1" y="561.5" width="2.8" height="2.8"/><rect x="369.1" y="562.0" width="2.8" height="2.8"/><rect x="378.1" y="562.4" width="2.8" height="2.8"/><rect x="387.0" y="562.9" width="2.8" height="2.8"/><rect x="396.0" y="563.3" width="2.8" height="2.8"/><rect x="405.0" y="563.8" width="2.8" height="2.8"/><rect x="414.0" y="564.2" width="2.8" height="2.8"/><rect x="423.0" y="564.7" width="2.8" height="2.8"/><rect x="431.9" y="565.1" width="2.8" height="2.8"/><rect x="440.9" y="565.6" width="2.8" height="2.8"/><rect x="449.9" y="566.0" width="2.8" height="2.8"/><rect x="458.9" y="566.5" width="2.8" height="2.8"/><rect x="467.9" y="566.9" width="2.8" height="2.8"/><rect x="476.8" y="567.4" width="2.8" height="2.8"/><rect x="485.8" y="567.8" width="2.8" height="2.8"/><rect x="494.8" y="568.3" width="2.8" height="2.8"/><rect x="503.8" y="568.7" width="2.8" height="2.8"/><rect x="512.8" y="569.2" width="2.8" height="2.8"/><rect x="521.7" y="569.6" width="2.8" height="2.8"/><rect x="530.7" y="570.1" width="2.8" height="2.8"/><rect x="539.7" y="570.5" width="2.8" height="2.8"/><rect x="548.7" y="571.0" width="2.8" height="2.8"/><rect x="557.7" y="571.4" width="2.8" height="2.8"/><rect x="566.6" y="571.9" width="2.8" height="2.8"/><rect x="575.6" y="572.3" width="2.8" height="2.8"/><rect x="584.6" y="572.8" width="2.8" height="2.8"/><rect x="593.6" y="573.2" width="2.8" height="2.8"/><rect x="602.6" y="573.7" width="2.8" height="2.8"/><rect x="611.5" y="574.1" width="2.8" height="2.8"/><rect x="620.5" y="574.6" width="2.8" height="2.8"/><rect x="629.5" y="575.0" width="2.8" height="2.8"/><rect x="638.5" y="575.5" width="2.8" height="2.8"/><rect x="647.5" y="575.9" width="2.8" height="2.8"/><rect x="656.4" y="576.4" width="2.8" height="2.8"/><rect x="665.4" y="576.8" width="2.8" height="2.8"/><rect x="674.4" y="577.3" width="2.8" height="2.8"/><rect x="683.4" y="577.7" width="2.8" height="2.8"/><rect x="692.4" y="578.2" width="2.8" height="2.8"/><rect x="701.3" y="578.6" width="2.8" height="2.8"/><rect x="710.3" y="579.1" width="2.8" height="2.8"/><rect x="719.3" y="579.5" width="2.8" height="2.8"/><rect x="728.3" y="580.0" width="2.8" height="2.8"/><rect x="737.3" y="580.4" width="2.8" height="2.8"/><rect x="746.2" y="580.9" width="2.8" height="2.8"/><rect x="755.2" y="581.3" width="2.8" height="2.8"/><rect x="764.2" y="581.8" width="2.8" height="2.8"/><rect x="773.2" y="582.2" width="2.8" height="2.8"/><rect x="782.2" y="582.7" width="2.8" height="2.8"/><rect x="791.1" y="583.1" width="2.8" height="2.8"/><rect x="800.1" y="583.6" width="2.8" height="2.8"/><rect x="809.1" y="584.0" width="2.8" height="2.8"/><rect x="818.1" y="584.5" width="2.8" height="2.8"/><rect x="827.1" y="584.9" width="2.8" height="2.8"/><rect x="836.0" y="585.4" width="2.8" height="2.8"/><rect x="845.0" y="585.8" width="2.8" height="2.8"/></g>
</g>
<g fill="#33363f" font-size="14.5px">
<text x="1366" y="50.8" textLength="51.3" lengthAdjust="spacingAndGlyphs">1.24500</text>
<text x="1366" y="100.8" textLength="51.3" lengthAdjust="spacingAndGlyphs">1.24000</text>
<text x="1366" y="150.8" textLength="51.3" lengthAdjust="spacingAndGlyphs">1.23500</text>
<text x="1366" y="200.8" textLength="51.3" lengthAdjust="spacingAndGlyphs">1.23000</text>
<text x="1366" y="250.8" textLength="51.3" lengthAdjust="spacingAndGlyphs">1.22500</text>
<text x="1366" y="300.8" textLength="51.3" lengthAdjust="spacingAndGlyphs">1.22000</text>
<text x="1366" y="351.8" textLength="51.3" lengthAdjust="spacingAndGlyphs">1.21500</text>
<text x="1366" y="401.8" textLength="51.3" lengthAdjust="spacingAndGlyphs">1.21000</text>
<text x="1366" y="451.8" textLength="51.3" lengthAdjust="spacingAndGlyphs">1.20500</text>
<text x="1366" y="501.8" textLength="51.3" lengthAdjust="spacingAndGlyphs">1.20000</text>
</g>
<clipPath id="c195"><rect x="1356" y="530" width="78" height="17"/></clipPath><g clip-path="url(#c195)"><text x="1366" y="551.8" fill="#33363f" font-size="14.5px" textLength="51.3" lengthAdjust="spacingAndGlyphs">1.19500</text></g>
<g fill="#33363f" font-size="14.5px"><text x="1365.5" y="613.5" textLength="36.5" lengthAdjust="spacingAndGlyphs">60.00</text><text x="1365.5" y="682.5" textLength="36.5" lengthAdjust="spacingAndGlyphs">40.00</text></g>
<rect x="1354" y="266.5" width="75" height="20.5" fill="#1976d2"/><rect x="1355" y="276.25" width="4" height="1" fill="#fff"/><text x="1366.3" y="281.35" fill="#fff" font-size="14.5px" font-weight="bold" textLength="51" lengthAdjust="spacingAndGlyphs">1.22189</text>
<rect x="1354" y="326.3" width="75" height="21.0" fill="#ef5350"/><rect x="1355" y="336.3" width="4" height="1" fill="#fff"/><text x="1366.3" y="341.40000000000003" fill="#fff" font-size="14.5px" font-weight="bold" textLength="51" lengthAdjust="spacingAndGlyphs">1.21587</text>
<rect x="1354" y="348.3" width="75" height="20.7" fill="#ef5350"/><text x="1360" y="363.2" fill="#fff" font-size="14.5px" font-weight="bold" textLength="58.3" lengthAdjust="spacingAndGlyphs">01:01:10</text>
<rect x="1354" y="372.6" width="75" height="20.19999999999999" fill="#1976d2"/><rect x="1355" y="382.20000000000005" width="4" height="1" fill="#fff"/><text x="1366.3" y="387.30000000000007" fill="#fff" font-size="14.5px" font-weight="bold" textLength="51" lengthAdjust="spacingAndGlyphs">1.21333</text>
<rect x="1354" y="433.2" width="75" height="20.30000000000001" fill="#2196f3"/><rect x="1355" y="442.85" width="4" height="1" fill="#fff"/><text x="1366.3" y="447.95000000000005" fill="#fff" font-size="14.5px" font-weight="bold" textLength="51" lengthAdjust="spacingAndGlyphs">1.20512</text>
<rect x="1354" y="474.4" width="75" height="20.30000000000001" fill="#2196f3"/><rect x="1355" y="484.04999999999995" width="4" height="1" fill="#fff"/><text x="1366.3" y="489.15" fill="#fff" font-size="14.5px" font-weight="bold" textLength="51" lengthAdjust="spacingAndGlyphs">1.20112</text>
<g fill="#33363f" font-size="14.5px" text-anchor="middle">
<text x="107.5" y="751">14:00</text>
<text x="212.5" y="751">14</text>
<text x="318.5" y="751">14:00</text>
<text x="423.5" y="751">21</text>
<text x="592.5" y="751">28</text>
<text x="866.5" y="751">14:00</text>
<text x="972.5" y="751">11</text>
<text x="1077.5" y="751">14:00</text>
<text x="1182.5" y="751">18</text>
<text x="1288.5" y="751">14:00</text>
<text x="754.5" y="751" font-weight="bold" font-size="14.5px">2021</text>
<text x="0.8" y="751">7</text>
</g>
<rect x="3" y="13" width="240" height="31" fill="#fff"/><rect x="176" y="44" width="67" height="11" fill="#fff"/>
<rect x="289" y="25" width="402" height="63" fill="#fff"/>
<text x="12.5" y="32.5" fill="#131722" font-size="15.2px" font-weight="bold" textLength="162" lengthAdjust="spacingAndGlyphs">Euro / U.S. Dollar, 4h,</text>
<rect x="1374.5" y="15.5" width="39" height="23.5" rx="4" ry="4" fill="#fff" stroke="#d8dadf" stroke-width="1"/>
<text x="1394" y="31.7" fill="#33363f" font-size="14px" text-anchor="middle" textLength="25" lengthAdjust="spacingAndGlyphs">USD</text>
<g fill="#06394f">
<path d="M291.8,28.2H337.7V41.7H307.6V51.9H334.8V65H307.6V85.6H291.8Z"/>
<path fill-rule="evenodd" d="M414,28.2H447C458,28.2 465.3,36 465.3,47.5C465.3,56 461,62 453.5,65L466.2,85.6H448.4L436,66.7H429.75V85.6H414Z M429.75,42.1H444C447.5,42.1 449.5,45 449.5,49C449.5,53 447.5,55.8 444,55.8H429.75Z"/>
<path d="M472.8,28.2H518.9V41.3H488.2V50.5H516.7V63.4H488.2V72.4H519.3V85.6H472.8Z"/>
<path d="M525.9,28.2H544.3L553.8,43.5L563.7,28.2H581.4L562.75,56.2L582.1,85.6H563.7L553.5,69.6L543.2,85.6H524.6L544.5,56.4Z"/>
<circle cx="591.4" cy="65.1" r="4.5"/>
<path d="M651.2,69.4V46.8H658.9V49.5C660.5,47.3 663,46 666,46C669.5,46 672,47.5 673.2,50C675,47.5 677.8,46 681,46C685.5,46 688,49 688,54V69.4H680.2V56C680.2,53.8 679.2,52.6 677.3,52.6C675.3,52.6 673.6,53.8 673.6,56V69.4H666V56C666,53.8 665,52.6 663,52.6C661,52.6 658.9,53.8 658.9,56V69.4Z"/>
</g>
<path d="M617.15,53.20A8.7,8.7 0 1 0 617.15,62.80" fill="none" stroke="#06394f" stroke-width="6.9"/>
<circle cx="634.8" cy="58" r="9" fill="none" stroke="#06394f" stroke-width="7.1"/>
<g fill="#0db25a">
<path fill-rule="evenodd" d="M341.9,56.3A29.15,29.5 0 1 0 400.2,56.3A29.15,29.5 0 1 0 341.9,56.3Z M359,57A12.5,21.9 0 1 0 384,57A12.5,21.9 0 1 0 359,57Z"/>
<path d="M375.2,50H408.8L406.8,55.8H373.5Z"/><path d="M373.5,60.2H407.4L405.6,65.7H371.9Z"/>
</g>
<rect x="0" y="730" width="0.9" height="30" fill="#fff"/>
<path d="M1.55,762.5V6.3H1434.6V762.5Z" fill="none" stroke="#101010" stroke-width="1.15"/>
<g fill="#2196f3"><circle cx="15" cy="783.3" r="7.4"/><circle cx="25.9" cy="787.6" r="7.1"/><circle cx="6.6" cy="789.2" r="5.6"/><rect x="6.6" y="786" width="19.3" height="8.8"/></g><path d="M1.9,791.6L13.6,782.7L20.9,790.5L29.3,782" fill="none" stroke="#fff" stroke-width="1.5"/><circle cx="13.6" cy="782.7" r="2" fill="#fff"/><circle cx="20.9" cy="790.5" r="2" fill="#fff"/>
<text x="35.4" y="790.6" fill="#33363f" font-size="15px" textLength="88.8" lengthAdjust="spacingAndGlyphs">TradingView</text>
</svg>
</body></html>
